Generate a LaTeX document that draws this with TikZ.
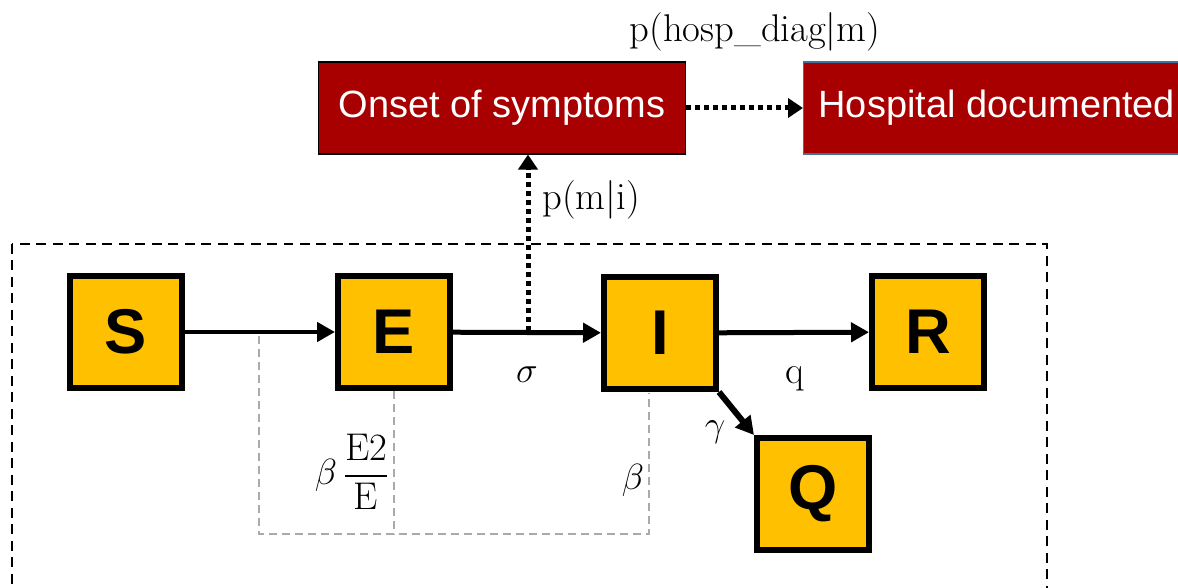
\documentclass[tikz,border=0pt]{standalone}
\usepackage{amsmath}
\usepackage{fontspec}
\usepackage{tikz}
\usetikzlibrary{arrows.meta}

\newfontfamily\boxfont{Liberation Sans}
\definecolor{compyellow}{RGB}{255,192,0}
\definecolor{obsred}{RGB}{168,0,0}
\definecolor{obsblue}{RGB}{65,113,156}
\definecolor{fbgray}{RGB}{170,170,170}

\begin{document}
\begin{tikzpicture}[x=0.02cm, y=-0.02cm,
	comp/.style={draw, fill=compyellow, line width=0.12cm, minimum size=2.24cm, inner sep=0pt, font=\boxfont\bfseries\fontsize{36}{36}\selectfont},
	obs/.style={draw, fill=obsred, text=white, minimum height=1.84cm, line width=0.6pt, font=\boxfont\fontsize{21.6}{26}\selectfont},
	flow/.style={line width=0.1cm, -{Triangle[length=0.36cm,width=0.38cm]}},
	report/.style={line width=0.1cm, dash pattern=on 0.1cm off 0.08cm, -{Triangle[length=0.3cm,width=0.38cm]}},
	fbline/.style={fbgray, line width=0.03cm, dash pattern=on 0.16cm off 0.1cm},
	rate/.style={inner sep=0pt, font=\fontsize{22}{26}\selectfont}]
	\useasboundingbox (0,0) rectangle (1178,588);

	% transmission compartments
	\draw[line width=0.04cm, dash pattern=on 0.2cm off 0.13cm] (12,244) rectangle (1047,620);

	\node[comp] (S) at (126,332) {S};
	\node[comp] (E) at (394,332) {E};
	\node[comp] (I) at (660,333) {I};
	\node[comp] (R) at (928,332) {R};
	\node[comp] (Q) at (813,494) {Q};

	% observed states
	\node[obs, minimum width=7.36cm] (onset) at (502,108) {Onset of symptoms};
	\node[obs, draw=obsblue, anchor=west, inner xsep=0.3cm] (hosp) at (803,108) {Hospital documented};

	\coordinate (fbtop) at (259,336);
	\coordinate (fbbot) at (259,534);
	\coordinate (ifb) at (649,393);
	\draw[fbline] (fbtop) -- (fbbot) -| (ifb);
	\draw[fbline] (E.south) -- (E.south |- fbbot);

	\draw[flow] (S) -- (E);
	\draw[flow] (E) -- (I);
	\draw[flow] (I) -- (R);
	\draw[flow, line width=0.12cm] (I.south east) -- (Q.north west);

	\coordinate (split) at (528,331);
	\draw[report] (split) -- (split |- onset.south);
	\draw[report] (onset) -- (hosp);

	\node[rate] (lsigma) at (527,375) {$\sigma$};
	\node[rate] (lq) at (795,379) {q};
	\node[rate] (lgamma) at (715,432) {$\gamma$};
	\node[rate] (lbeta) at (633,480) {$\beta$};
	\node[rate] (lbetafrac) at (352,472) {$\beta\,\dfrac{\text{E2}}{\text{E}}$};
	\node[rate, anchor=west] (lmi) at (542,200) {p(m|i)};
	\node[rate] (lhosp) at (755,32) {p(hosp\_diag|m)};
\end{tikzpicture}
\end{document}
